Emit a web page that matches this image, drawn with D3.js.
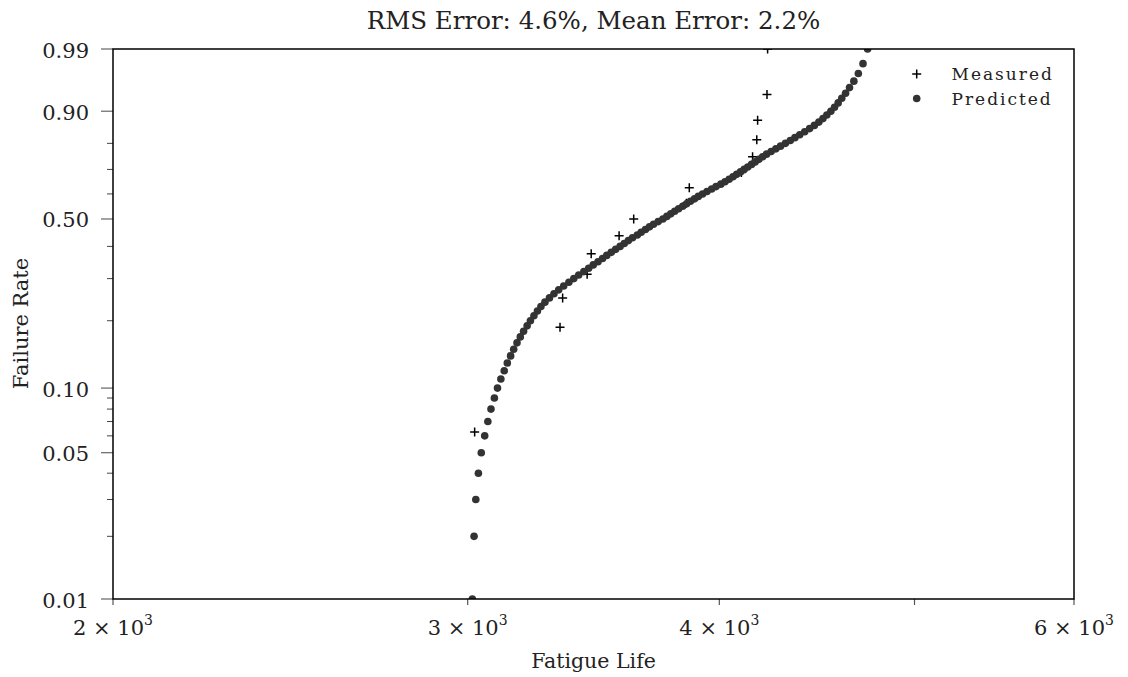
<!DOCTYPE html>
<html><head><meta charset="utf-8">
<script src="https://cdn.jsdelivr.net/npm/d3@7"></script>
<style>
body{margin:0;background:#fff}
text{font-family:"DejaVu Serif",serif;fill:#222}
</style>
</head><body><svg id="c" width="1128" height="677"></svg>
<script>
const titleText = "RMS Error: 4.6%, Mean Error: 2.2%";
const xLabelText = "Fatigue Life";
const yLabelText = "Failure Rate";

const measuredLife = [3024, 3334, 3344, 3439, 3455, 3567, 3627, 3852, 3865, 4102, 4155, 4175, 4179, 4224, 4227];
const measuredRate = [0.0625, 0.1875, 0.25, 0.3125, 0.375, 0.4375, 0.5, 0.5625, 0.625, 0.6875, 0.75, 0.8125, 0.875, 0.9375, 0.99];

const predictedRate = [0.01,0.02,0.03,0.04,0.05,0.06,0.07,0.08,0.09,0.10,
  0.11,0.12,0.13,0.14,0.15,0.16,0.17,0.18,0.19,0.20,
  0.21,0.22,0.23,0.24,0.25,0.26,0.27,0.28,0.29,0.30,
  0.31,0.32,0.33,0.34,0.35,0.36,0.37,0.38,0.39,0.40,
  0.41,0.42,0.43,0.44,0.45,0.46,0.47,0.48,0.49,0.50,
  0.51,0.52,0.53,0.54,0.55,0.56,0.57,0.58,0.59,0.60,
  0.61,0.62,0.63,0.64,0.65,0.66,0.67,0.68,0.69,0.70,
  0.71,0.72,0.73,0.74,0.75,0.76,0.77,0.78,0.79,0.80,
  0.81,0.82,0.83,0.84,0.85,0.86,0.87,0.88,0.89,0.90,
  0.91,0.92,0.93,0.94,0.95,0.96,0.97,0.98,0.99];
const predictedLife = [3016,3022,3028,3037,3047,3059,3070,3081,3093,3104,
  3116,3128,3139,3151,3162,3174,3186,3198,3211,3223,
  3236,3249,3262,3277,3294,3311,3329,3348,3368,3387,
  3406,3426,3445,3463,3482,3500,3517,3535,3553,3571,
  3588,3605,3622,3642,3658,3676,3693,3710,3730,3750,
  3767,3784,3801,3818,3836,3853,3870,3888,3905,3924,
  3944,3965,3985,4007,4026,4045,4063,4080,4098,4115,
  4132,4150,4167,4185,4203,4222,4244,4267,4290,4314,
  4338,4361,4385,4410,4435,4459,4482,4503,4523,4544,
  4563,4582,4601,4621,4642,4665,4689,4714,4739];

const xMajorTicks = [2000, 3000, 4000, 6000];
const xTickMantissa = ["2", "3", "4", "6"];
const xMinorTicks = [5000];
const yMajorTicks = [0.01, 0.05, 0.10, 0.50, 0.90, 0.99];
const yTickLabels = ["0.01", "0.05", "0.10", "0.50", "0.90", "0.99"];
const yMinorTicks = [0.02,0.03,0.04,0.06,0.07,0.08,0.09,0.2,0.3,0.4,0.6,0.7,0.8];
const legendLabels = ["Measured", "Predicted"];

const L = 113, R = 1074, T = 49, B = 599;
const svg = d3.select("#c");

const x = d3.scaleLog().domain([2000, 6000]).range([L, R]);
const wt = p => Math.log(-Math.log(1 - p));
const yLin = d3.scaleLinear().domain([wt(0.01), wt(0.99)]).range([B, T]);
const y = p => yLin(wt(p));

svg.append("defs").append("clipPath").attr("id", "clip")
  .append("rect").attr("x", L).attr("y", T).attr("width", R - L).attr("height", B - T);

// y ticks
const gy = svg.append("g");
gy.selectAll("line.ymaj").data(yMajorTicks).join("line")
  .attr("x1", L - 12).attr("x2", L).attr("y1", d => y(d)).attr("y2", d => y(d))
  .attr("stroke", "#666").attr("stroke-width", 1.2);
gy.selectAll("line.ymin").data(yMinorTicks).join("line").attr("class", "ymin")
  .attr("x1", L - 6).attr("x2", L).attr("y1", d => y(d)).attr("y2", d => y(d))
  .attr("stroke", "#444").attr("stroke-width", 1);
gy.selectAll("text").data(yMajorTicks).join("text")
  .attr("x", 89).attr("y", d => y(d) + 8.5).attr("text-anchor", "end")
  .style("font-size", "21px").text((d, i) => yTickLabels[i]);

// x ticks
const gx = svg.append("g");
gx.selectAll("line").data(xMajorTicks.concat(xMinorTicks)).join("line")
  .attr("x1", d => x(d)).attr("x2", d => x(d)).attr("y1", B).attr("y2", B + 6)
  .attr("stroke", "#555").attr("stroke-width", 1.2);
const xt = gx.selectAll("text").data(xMajorTicks).join("text")
  .attr("x", d => x(d)).attr("y", 635).attr("text-anchor", "middle")
  .style("font-size", "21px");
xt.append("tspan").text((d, i) => xTickMantissa[i] + " \u00d7 10");
xt.append("tspan").attr("dy", -10).style("font-size", "14px").text("3");

// measured (+)
const plot = svg.append("g").attr("clip-path", "url(#clip)");
const mIdx = d3.range(measuredLife.length);
const pm = plot.selectAll("g.m").data(mIdx).join("g")
  .attr("transform", i => `translate(${x(measuredLife[i])},${y(measuredRate[i])})`);
pm.append("path").attr("d", "M-4.5,0H4.5M0,-4.5V4.5").attr("stroke", "#000").attr("stroke-width", 1.5);

// predicted dots
plot.selectAll("circle").data(d3.range(predictedLife.length)).join("circle")
  .attr("cx", i => x(predictedLife[i])).attr("cy", i => y(predictedRate[i]))
  .attr("r", 3.8).attr("fill", "#333");

// frame
svg.append("rect").attr("x", L).attr("y", T).attr("width", R - L).attr("height", B - T)
  .attr("fill", "none").attr("stroke", "#000").attr("stroke-width", 1.5);

// title & labels
svg.append("text").attr("x", (L + R) / 2).attr("y", 29).attr("text-anchor", "middle")
  .style("font-size", "24.5px").text(titleText);
svg.append("text").attr("x", (L + R) / 2).attr("y", 668).attr("text-anchor", "middle")
  .style("font-size", "20.5px").text(xLabelText);
svg.append("text").attr("transform", "translate(28,323.5) rotate(-90)").attr("text-anchor", "middle")
  .style("font-size", "21px").text(yLabelText);

// legend
const lg = svg.append("g");
lg.append("path").attr("d", "M912.2,74H921.2M916.7,69.5V78.5").attr("stroke", "#000").attr("stroke-width", 1.5);
lg.append("circle").attr("cx", 916.7).attr("cy", 98.5).attr("r", 3.8).attr("fill", "#333");
lg.selectAll("text").data(legendLabels).join("text")
  .attr("x", 951.5).attr("y", (d, i) => 79.5 + i * 25)
  .style("font-size", "17px").style("letter-spacing", "2px").text(d => d);
</script>
</body></html>
